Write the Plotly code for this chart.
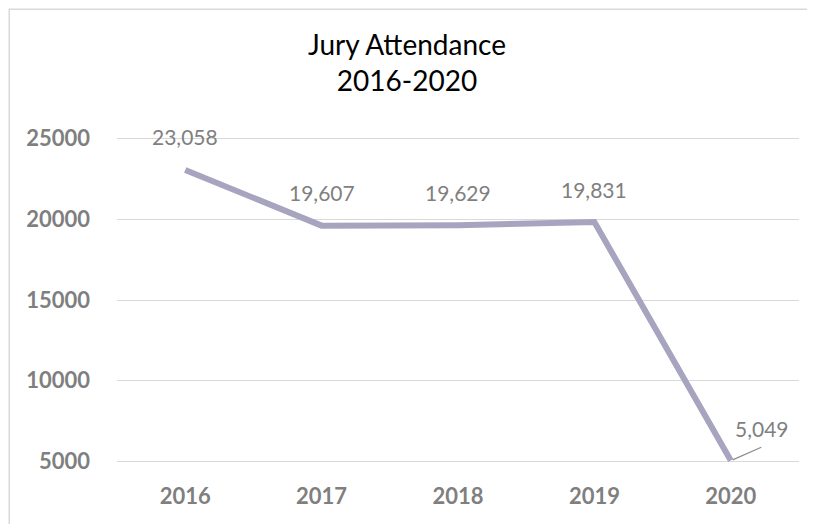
import plotly.graph_objects as go

# Jury attendance by year
years = ["2016", "2017", "2018", "2019", "2020"]
attendance = [23058, 19607, 19629, 19831, 5049]

FONT = "Lato"
GRAY = "#7f7f7f"

# page body adds an 8px offset, so the figure is sized to fit the window
W, H = 807, 516

fig = go.Figure()

fig.add_trace(go.Scatter(
    x=years,
    y=attendance,
    mode="lines",
    line=dict(color="#a7a4bf", width=6),
    hoverinfo="x+y",
    showlegend=False,
))

# data labels above each point, last one pulled out to the right with a leader line
# (annotations use the category index since the names look numeric)
for i, val in enumerate(attendance):
    label = f"{val:,}"
    if i == len(years) - 1:
        fig.add_annotation(x=i, y=val, xref="x", yref="y", text="",
                           showarrow=True, arrowhead=0, arrowwidth=1.3,
                           arrowcolor="#8c8c8c", ax=32, ay=-14, standoff=2)
        fig.add_annotation(x=i, y=val, xref="x", yref="y", text=label,
                           showarrow=False, xshift=31, yshift=32,
                           font=dict(family=FONT, size=21, color=GRAY))
    else:
        fig.add_annotation(x=i, y=val, xref="x", yref="y", text=label,
                           showarrow=False, yshift=33,
                           font=dict(family=FONT, size=21, color=GRAY))

# outer chart border (only top/left edges fall inside the picture)
fig.add_shape(type="rect", xref="paper", yref="paper",
              x0=-0.158, x1=1.2, y0=-0.4, y1=1.392,
              line=dict(color="#d9d9d9", width=1.5), layer="below")

fig.update_layout(
    width=W,
    height=H,
    margin=dict(l=109, r=16, t=129, b=61),
    paper_bgcolor="white",
    plot_bgcolor="white",
    font=dict(family=FONT, color=GRAY),
    title=dict(
        text="Jury Attendance<br>2016-2020",
        x=399 / W, xref="container", xanchor="center",
        y=1 - 47 / H, yref="container", yanchor="middle",
        font=dict(family=FONT, size=28, color="#000000"),
    ),
    xaxis=dict(
        type="category",
        range=[-0.5, 4.5],
        showgrid=False,
        showline=False,
        zeroline=False,
        tickfont=dict(family=FONT, size=22, color=GRAY, weight="bold"),
        ticklabelstandoff=18,
    ),
    yaxis=dict(
        # small padding so the end gridlines are not clipped
        range=[4900, 25100],
        tickvals=[5000, 10000, 15000, 20000, 25000],
        tickformat="d",
        showgrid=True,
        gridcolor="#d9d9d9",
        gridwidth=1.3,
        zeroline=False,
        showline=False,
        tickfont=dict(family=FONT, size=22, color=GRAY, weight="bold"),
        ticklabelstandoff=26,
    ),
)

fig.write_html("out.html")
